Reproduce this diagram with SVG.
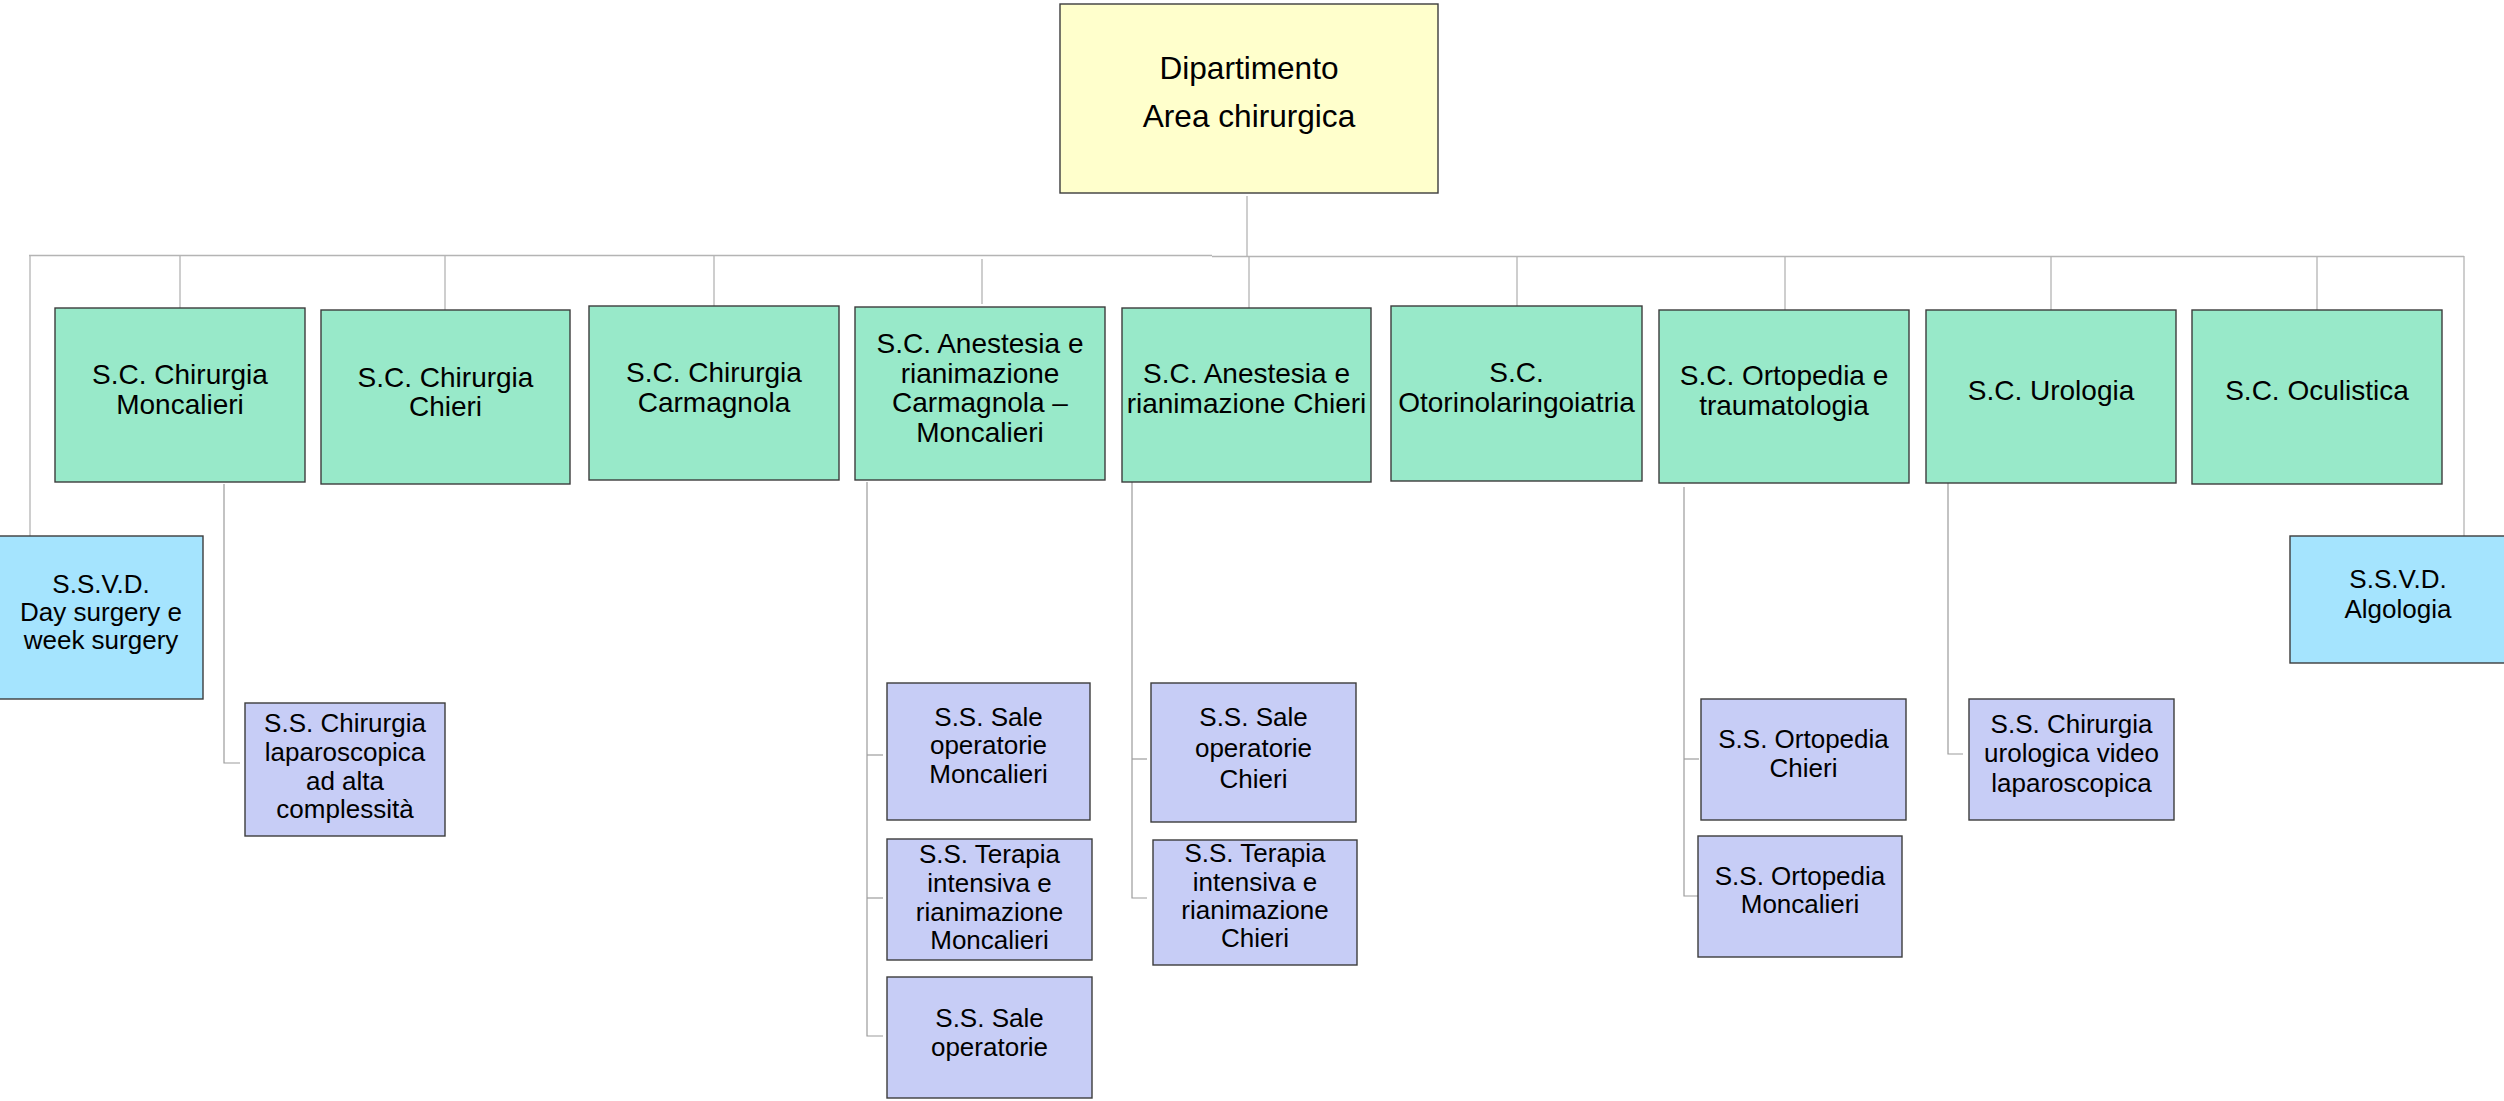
<svg xmlns="http://www.w3.org/2000/svg" width="2504" height="1101" viewBox="0 0 2504 1101">
  <style>
    .box { stroke: #3c3c3c; stroke-width: 1.4; }
    .dept { fill: #ffffcc; }
    .sc { fill: #98e9c9; }
    .ssvd { fill: #a5e4fe; }
    .ss { fill: #c7cdf6; }
    text { font-family: "Liberation Sans", Arial, sans-serif; fill: #000; text-anchor: middle; }
    .t-dept { font-size: 31.6px; }
    .t-sc { font-size: 28px; }
    .t-ss { font-size: 26px; }
    .trunk { stroke: #b4b4b4; stroke-width: 1.3; fill: none; }
    .branch { stroke: #9c9c9c; stroke-width: 1.2; fill: none; }
  </style>

  <!-- connectors -->
  <g id="connectors">
    <!-- department to the horizontal bus -->
    <line class="trunk" x1="1247" y1="196" x2="1247" y2="256"/>
    <line class="trunk" x1="29" y1="255.5" x2="1212" y2="255.5"/>
    <line class="trunk" x1="1212" y1="256.5" x2="2464" y2="256.5"/>
    <!-- bus to S.C. units -->
    <line class="trunk" x1="180" y1="256" x2="180" y2="308"/>
    <line class="trunk" x1="445" y1="256" x2="445" y2="310"/>
    <line class="trunk" x1="714" y1="256" x2="714" y2="306"/>
    <line class="trunk" x1="982" y1="259" x2="982" y2="304"/>
    <line class="trunk" x1="1249" y1="256" x2="1249" y2="308"/>
    <line class="trunk" x1="1517" y1="256" x2="1517" y2="306"/>
    <line class="trunk" x1="1785" y1="256" x2="1785" y2="310"/>
    <line class="trunk" x1="2051" y1="256" x2="2051" y2="310"/>
    <line class="trunk" x1="2317" y1="256" x2="2317" y2="310"/>
    <!-- bus to S.S.V.D. units -->
    <line class="trunk" x1="30" y1="256" x2="30" y2="537"/>
    <line class="trunk" x1="2464" y1="256" x2="2464" y2="537"/>
    <!-- S.C. units to S.S. units -->
    <polyline class="branch" points="224,484 224,763 240,763"/>
    <polyline class="branch" points="867,482 867,1036 883,1036"/>
    <line class="branch" x1="867" y1="755" x2="883" y2="755"/>
    <line class="branch" x1="867" y1="898" x2="883" y2="898"/>
    <polyline class="branch" points="1132,482 1132,898 1147,898"/>
    <line class="branch" x1="1132" y1="759" x2="1147" y2="759"/>
    <polyline class="branch" points="1684,487 1684,896 1699,896"/>
    <line class="branch" x1="1684" y1="759" x2="1699" y2="759"/>
    <polyline class="branch" points="1948,483 1948,754 1963,754"/>
  </g>

  <!-- department -->
  <g id="dipartimento">
    <rect class="box dept" x="1060" y="4" width="378" height="189"/>
    <text class="t-dept" x="1249" y="79">Dipartimento</text>
    <text class="t-dept" x="1249" y="127">Area chirurgica</text>
  </g>

  <!-- S.C. units -->
  <g id="sc-chirurgia-moncalieri">
    <rect class="box sc" x="55" y="308" width="250" height="174"/>
    <text class="t-sc" x="180" y="384">S.C. Chirurgia</text>
    <text class="t-sc" x="180" y="414">Moncalieri</text>
  </g>
  <g id="sc-chirurgia-chieri">
    <rect class="box sc" x="321" y="310" width="249" height="174"/>
    <text class="t-sc" x="445.5" y="387">S.C. Chirurgia</text>
    <text class="t-sc" x="445.5" y="416">Chieri</text>
  </g>
  <g id="sc-chirurgia-carmagnola">
    <rect class="box sc" x="589" y="306" width="250" height="174"/>
    <text class="t-sc" x="714" y="382">S.C. Chirurgia</text>
    <text class="t-sc" x="714" y="412">Carmagnola</text>
  </g>
  <g id="sc-anestesia-carmagnola-moncalieri">
    <rect class="box sc" x="855" y="307" width="250" height="173"/>
    <text class="t-sc" x="980" y="353">S.C. Anestesia e</text>
    <text class="t-sc" x="980" y="383">rianimazione</text>
    <text class="t-sc" x="980" y="412">Carmagnola –</text>
    <text class="t-sc" x="980" y="442">Moncalieri</text>
  </g>
  <g id="sc-anestesia-chieri">
    <rect class="box sc" x="1122" y="308" width="249" height="174"/>
    <text class="t-sc" x="1246.5" y="383">S.C. Anestesia e</text>
    <text class="t-sc" x="1246.5" y="413">rianimazione Chieri</text>
  </g>
  <g id="sc-otorinolaringoiatria">
    <rect class="box sc" x="1391" y="306" width="251" height="175"/>
    <text class="t-sc" x="1516.5" y="382">S.C.</text>
    <text class="t-sc" x="1516.5" y="412">Otorinolaringoiatria</text>
  </g>
  <g id="sc-ortopedia">
    <rect class="box sc" x="1659" y="310" width="250" height="173"/>
    <text class="t-sc" x="1784" y="385">S.C. Ortopedia e</text>
    <text class="t-sc" x="1784" y="415">traumatologia</text>
  </g>
  <g id="sc-urologia">
    <rect class="box sc" x="1926" y="310" width="250" height="173"/>
    <text class="t-sc" x="2051" y="400">S.C. Urologia</text>
  </g>
  <g id="sc-oculistica">
    <rect class="box sc" x="2192" y="310" width="250" height="174"/>
    <text class="t-sc" x="2317" y="400">S.C. Oculistica</text>
  </g>

  <!-- S.S.V.D. units -->
  <g id="ssvd-day-surgery">
    <rect class="box ssvd" x="-2" y="536" width="205" height="163"/>
    <text class="t-ss" x="101" y="593">S.S.V.D.</text>
    <text class="t-ss" x="101" y="621">Day surgery e</text>
    <text class="t-ss" x="101" y="649">week surgery</text>
  </g>
  <g id="ssvd-algologia">
    <rect class="box ssvd" x="2290" y="536" width="216" height="127"/>
    <text class="t-ss" x="2398" y="588">S.S.V.D.</text>
    <text class="t-ss" x="2398" y="618">Algologia</text>
  </g>

  <!-- S.S. units -->
  <g id="ss-chirurgia-laparoscopica">
    <rect class="box ss" x="245" y="703" width="200" height="133"/>
    <text class="t-ss" x="345" y="732">S.S. Chirurgia</text>
    <text class="t-ss" x="345" y="761">laparoscopica</text>
    <text class="t-ss" x="345" y="790">ad alta</text>
    <text class="t-ss" x="345" y="818">complessità</text>
  </g>
  <g id="ss-sale-operatorie-moncalieri">
    <rect class="box ss" x="887" y="683" width="203" height="137"/>
    <text class="t-ss" x="988.5" y="726">S.S. Sale</text>
    <text class="t-ss" x="988.5" y="754">operatorie</text>
    <text class="t-ss" x="988.5" y="783">Moncalieri</text>
  </g>
  <g id="ss-terapia-intensiva-moncalieri">
    <rect class="box ss" x="887" y="839" width="205" height="121"/>
    <text class="t-ss" x="989.5" y="863">S.S. Terapia</text>
    <text class="t-ss" x="989.5" y="892">intensiva e</text>
    <text class="t-ss" x="989.5" y="921">rianimazione</text>
    <text class="t-ss" x="989.5" y="949">Moncalieri</text>
  </g>
  <g id="ss-sale-operatorie">
    <rect class="box ss" x="887" y="977" width="205" height="121"/>
    <text class="t-ss" x="989.5" y="1027">S.S. Sale</text>
    <text class="t-ss" x="989.5" y="1056">operatorie</text>
  </g>
  <g id="ss-sale-operatorie-chieri">
    <rect class="box ss" x="1151" y="683" width="205" height="139"/>
    <text class="t-ss" x="1253.5" y="726">S.S. Sale</text>
    <text class="t-ss" x="1253.5" y="757">operatorie</text>
    <text class="t-ss" x="1253.5" y="788">Chieri</text>
  </g>
  <g id="ss-terapia-intensiva-chieri">
    <rect class="box ss" x="1153" y="840" width="204" height="125"/>
    <text class="t-ss" x="1255" y="862">S.S. Terapia</text>
    <text class="t-ss" x="1255" y="891">intensiva e</text>
    <text class="t-ss" x="1255" y="919">rianimazione</text>
    <text class="t-ss" x="1255" y="947">Chieri</text>
  </g>
  <g id="ss-ortopedia-chieri">
    <rect class="box ss" x="1701" y="699" width="205" height="121"/>
    <text class="t-ss" x="1803.5" y="748">S.S. Ortopedia</text>
    <text class="t-ss" x="1803.5" y="777">Chieri</text>
  </g>
  <g id="ss-ortopedia-moncalieri">
    <rect class="box ss" x="1698" y="836" width="204" height="121"/>
    <text class="t-ss" x="1800" y="885">S.S. Ortopedia</text>
    <text class="t-ss" x="1800" y="913">Moncalieri</text>
  </g>
  <g id="ss-chirurgia-urologica">
    <rect class="box ss" x="1969" y="699" width="205" height="121"/>
    <text class="t-ss" x="2071.5" y="733">S.S. Chirurgia</text>
    <text class="t-ss" x="2071.5" y="762">urologica video</text>
    <text class="t-ss" x="2071.5" y="792">laparoscopica</text>
  </g>
</svg>
